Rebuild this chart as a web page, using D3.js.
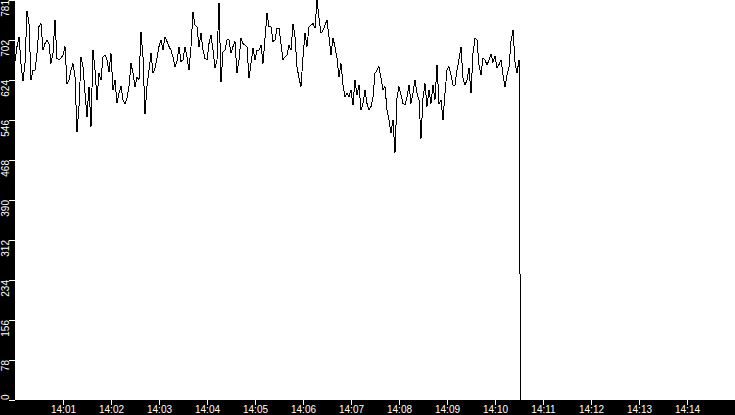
<!DOCTYPE html>
<html>
<head>
<meta charset="utf-8">
<script src="https://cdn.jsdelivr.net/npm/d3@7"></script>
<style>
  html, body { margin: 0; padding: 0; background: #000; }
  svg { display: block; }
  text { font-family: "Liberation Sans", Arial, sans-serif; }
</style>
</head>
<body>
<svg id="chart" width="735" height="415"></svg>
<script>
// ---- data ----
const startTime = new Date(2024, 0, 1, 14, 0, 0);
const endTime = new Date(2024, 0, 1, 14, 15, 0);
const stepSeconds = 2.5;

const values0 = [661,690,709,657,622,657,760,735,625,644,644,677,729,735,683,696,703,696,657,677,742,667,664,667,674,690,618,625,644,657,631,523,573,670,651,599,553,612,534,683,644,586,638,625,670];
const values1 = [674,664,641,677,605,625,579,599,613,586,579,589,612,657,638,612,631,625,718,670,558,612,644,677,638,648,667,690,703,683,709,700,690,683,670,651,661,690,661,664,690,670,644];
const values2 = [690,758,732,729,690,716,683,667,664,696,713,683,648,664,776,620,680,683,703,703,677,690,700,638,664,706,696,693,690,628,657,687,664,683,683,693,657,706,755,729,729,700,703];
const values3 = [726,726,696,664,670,674,693,683,735,709,651,628,612,670,716,690,729,732,735,726,781,745,716,722,732,742,709,674,706,690,667,631,657,615,592,599,592,605,576,625,595,615];
const values4 = [566,579,605,579,566,573,592,638,644,651,628,605,612,566,547,521,547,482,589,612,595,579,576,592,615,579,599,625,599,586,510,589,618,573,605,579,615,586,655,579,586,547,599];
const values5 = [644,651,635,615,615,644,665,690,628,615,625,648,599,677,706,703,654,635,667,664,654,664,676,659,672,648,655,664,635,611,635,650,700,722,660,638,664];
// final drop: [seconds after start, value]
const tail = [[631, 332], [632, 0]];

const yMax = 781;
const yTickLabels = ["0","78","156","234","312","390","468","546","624","702","781"];
const xTickLabels = ["14:01","14:02","14:03","14:04","14:05","14:06","14:07","14:08","14:09","14:10","14:11","14:12","14:13","14:14"];

// ---- build table ----
const allValues = [].concat(values0, values1, values2, values3, values4, values5);
const data = allValues.map((v, i) => ({ t: new Date(startTime.getTime() + i * stepSeconds * 1000), v }));
tail.forEach(([s, v]) => data.push({ t: new Date(startTime.getTime() + s * 1000), v }));

const yTickValues = yTickLabels.map((_, i) => i * yMax / (yTickLabels.length - 1));
const xTickValues = xTickLabels.map(l => {
  const [h, m] = l.split(":").map(Number);
  return new Date(2024, 0, 1, h, m, 0);
});

// ---- layout ----
const W = 735, H = 415;
const margin = { left: 15, right: 0, top: 0, bottom: 15 };
const svg = d3.select("#chart");

svg.append("rect").attr("x", 0).attr("y", 0).attr("width", W).attr("height", H).attr("fill", "#000");

const x = d3.scaleTime().domain([startTime, endTime]).range([margin.left, W - margin.right]);
const y = d3.scaleLinear().domain([0, yMax]).range([H - margin.bottom, margin.top]);

svg.append("rect")
  .attr("x", margin.left).attr("y", margin.top)
  .attr("width", W - margin.left - margin.right)
  .attr("height", H - margin.top - margin.bottom)
  .attr("fill", "#fff");

// line
const line = d3.line().x(d => x(d.t)).y(d => y(d.v));
svg.append("path")
  .datum(data)
  .attr("d", line)
  .attr("fill", "none")
  .attr("stroke", "#000")
  .attr("stroke-width", 1)
  .attr("shape-rendering", "crispEdges");

// x axis
const xAxis = d3.axisBottom(x)
  .tickValues(xTickValues)
  .tickSize(5)
  .tickFormat((d, i) => xTickLabels[i]);
const gx = svg.append("g")
  .attr("transform", `translate(0,${H - margin.bottom})`)
  .call(xAxis);
gx.select(".domain").remove();
gx.selectAll("line").attr("stroke", "#fff");
gx.selectAll("text").attr("fill", "#fff").attr("font-size", 10)
  .attr("y", 6)
  .attr("font-family", "'Liberation Sans', Arial, sans-serif");

// y axis
const yAxis = d3.axisLeft(y)
  .tickValues(yTickValues)
  .tickSize(6)
  .tickFormat("");
const gy = svg.append("g")
  .attr("transform", `translate(${margin.left},0)`)
  .call(yAxis);
gy.select(".domain").remove();
gy.selectAll("line").attr("stroke", "#fff");

svg.append("g").selectAll("text")
  .data(yTickValues)
  .join("text")
  .attr("transform", d => `translate(9,${y(d)}) rotate(-90)`)
  .attr("text-anchor", (d, i) => i === 0 ? "start" : "end")
  .attr("fill", "#fff")
  .attr("font-size", 10)
  .text((d, i) => yTickLabels[i]);
</script>
</body>
</html>
